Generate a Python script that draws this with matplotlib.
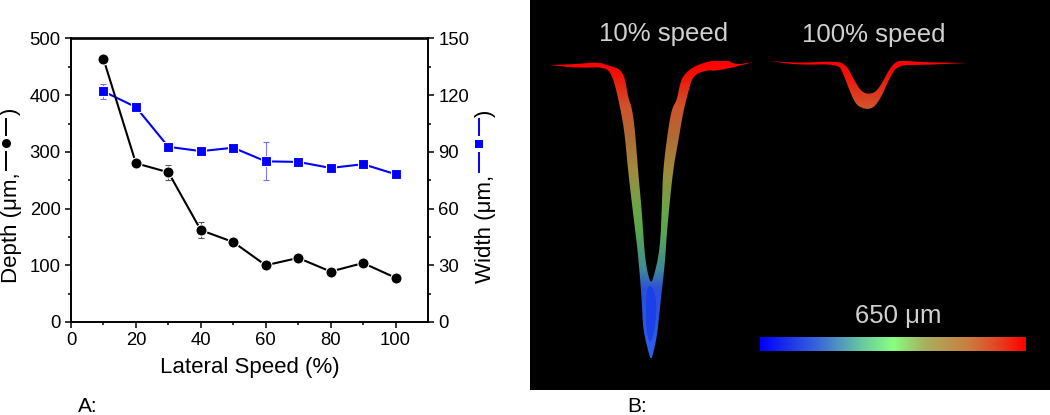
import numpy as np
import matplotlib
matplotlib.use("Agg")
import matplotlib.pyplot as plt
from matplotlib.colors import LinearSegmentedColormap
from matplotlib.lines import Line2D
from matplotlib.patches import Polygon

plt.rcParams['font.family'] = ['Liberation Sans', 'DejaVu Sans']

speed = [10, 20, 30, 40, 50, 60, 70, 80, 90, 100]
depth = [464, 280, 264, 162, 141, 100, 113, 89, 104, 78]
depth_err = [2, 2, 13, 13.5, 3, 2, 2, 2, 2, 2]
width = [122, 113.7, 92.7, 90.4, 92.2, 85, 84.7, 81.5, 83.5, 78.2]
width_err = [3.8, 1, 1, 1, 1, 10, 1, 2.8, 1, 1]
depth_ticks = [0, 100, 200, 300, 400, 500]
width_ticks = [0, 30, 60, 90, 120, 150]
speed_ticks = [0, 20, 40, 60, 80, 100]

# Surface profiles of the two grooves, as (x, y) in panel pixels
# (the ends of the flat surface are listed three times so smoothing keeps them sharp)
profile_10 = [(550,65),(550,65),(550,65),(578,68),(605,67),(612,75),(617,93),(622,117),(625,137),(628,170),
              (633,213),(638,253),(642,303),(643,330),(650,358),(651,359),(652,358),(657,337),(660,307),
              (665,263),(667,230),(673,170),(678,143),(683,113),(688,93),(693,75),(708,70),
              (715,71),(735,67),(753,62),(753,62),(753,62),(735,65),(725,58),(698,64),(685,73),(680,83),(677,100),
              (672,108),(668,130),(663,170),(662,203),(660,250),(653,280),(650,283),(645,260),
              (642,213),(638,170),(635,130),(632,108),(628,97),(625,78),(620,69),(610,66),
              (598,62),(578,64)]
profile_100 = [(770,61),(770,61),(770,61),(798,65),(838,64),(843,73),(852,97),(858,107),(871,110),(880,100),
               (890,77),(898,65),(922,65),(967,63),(967,63),(967,63),(912,62),(903,59),(892,64),(880,87),
               (873,94),(862,93),(853,78),(847,66),(838,61),(798,63)]
tip_core = [(646,288),(652,285),(657,300),(655,330),(650,345),(646,330)]

depth_cmap = LinearSegmentedColormap.from_list('depth', [
    (0.00, '#ff0000'), (0.05, '#f01408'), (0.15, '#d0522c'), (0.25, '#b06a34'),
    (0.365, '#a08a3c'), (0.50, '#6aa64a'), (0.57, '#5aa84c'), (0.70, '#3f8a98'),
    (0.77, '#2c50d8'), (0.90, '#2c58e0'), (1.00, '#2c60ec')])
scale_cmap = LinearSegmentedColormap.from_list('scale', [
    (0.00, '#0000ff'), (0.22, '#3c68d8'), (0.38, '#68c8a0'), (0.50, '#88ff80'),
    (0.62, '#a8b060'), (0.78, '#c88040'), (0.90, '#e84020'), (1.00, '#ff0000')])

fig = plt.figure(figsize=(10.5, 4.15), dpi=100)
W, H = 1050, 415

def rect(l, t, r, b):
    return [l / W, 1 - b / H, (r - l) / W, (b - t) / H]

def fx(px):
    return px / W

def fy(py):
    return 1 - py / H

def smooth(outline, rounds=2):
    # Corner cutting so the traced outlines do not look faceted
    pts = np.asarray(outline, dtype=float)
    for _ in range(rounds):
        nxt = np.roll(pts, -1, axis=0)
        pts = np.column_stack([0.75 * pts + 0.25 * nxt, 0.25 * pts + 0.75 * nxt]).reshape(-1, 2)
    return pts

ax = fig.add_axes(rect(71, 38.5, 428, 322))
ax2 = ax.twinx()

ax.errorbar(speed, depth, yerr=depth_err, color='black', lw=1.5, marker='o', ms=8,
            mfc='black', mec='white', mew=0.8, ecolor='#555555', elinewidth=0.7, capsize=2.5,
            capthick=0.7, zorder=3)
ax2.errorbar(speed, width, yerr=width_err, color='#0000ff', lw=1.5, marker='s', ms=7.2,
             mfc='#0000ff', mec='white', mew=0.8, ecolor='#7070ff', elinewidth=0.7, capsize=2.5,
             capthick=0.7, zorder=3)

ax.set_xlim(0, 110)
ax.set_ylim(0, 500)
ax2.set_ylim(0, 150)
ax.set_xticks(speed_ticks)
ax.set_xticks(np.arange(10, 110, 20), minor=True)
ax.set_yticks(depth_ticks)
ax.set_yticks(np.arange(50, 500, 100), minor=True)
ax2.set_yticks(width_ticks)
ax2.set_yticks(np.arange(15, 150, 30), minor=True)
for a in (ax, ax2):
    a.tick_params(which='major', length=4.5, width=1.1, labelsize=13.3, pad=3)
    a.tick_params(which='minor', length=2.3, width=1.1)
    for s in a.spines.values():
        s.set_linewidth(1.2)
ax.set_zorder(ax2.get_zorder() + 1)
ax.patch.set_visible(False)

fig.text(fx(250), fy(367), 'Lateral Speed (%)', fontsize=16, ha='center', va='center')

# Rotated axis titles with their line-and-marker keys drawn beside them
fig.text(fx(12), fy(283), 'Depth (μm,', rotation=90, fontsize=16, ha='center', va='bottom')
fig.text(fx(10), fy(115), ')', rotation=90, fontsize=16, ha='center', va='bottom')
fig.text(fx(485), fy(283), 'Width (μm,', rotation=90, fontsize=16, ha='center', va='bottom')
fig.text(fx(485), fy(117), ')', rotation=90, fontsize=16, ha='center', va='bottom')
for xk, ym, col, mk, ms, segs in [(5.7, 143, 'black', 'o', 6.5, [(119, 135), (152, 170)]),
                                  (479, 144, '#0000ff', 's', 5.8, [(119, 135), (153, 172)])]:
    for a0, a1 in segs:
        fig.add_artist(Line2D([fx(xk), fx(xk)], [fy(a0), fy(a1)], color=col, lw=1.4))
    fig.add_artist(Line2D([fx(xk)], [fy(ym)], color=col, marker=mk, ms=ms, mew=0))

fig.text(fx(78), fy(406.5), 'A:', fontsize=15, ha='left', va='center')
fig.text(fx(627), fy(406.5), 'B:', fontsize=15, ha='left', va='center')

# Black image panel, in pixel units
panel = fig.add_axes(rect(530, 0, 1050, 390))
panel.set_facecolor('black')
panel.set_xticks([])
panel.set_yticks([])
for s in panel.spines.values():
    s.set_visible(False)

gradient = np.linspace(0, 1, 256).reshape(-1, 1)
for outline in (profile_10, profile_100):
    poly = Polygon(smooth(outline), closed=True, transform=panel.transData, fc='none', ec='none')
    panel.add_patch(poly)
    im = panel.imshow(gradient, extent=(530, 1050, 358, 62), cmap=depth_cmap, aspect='auto',
                      interpolation='bilinear', zorder=2)
    im.set_clip_path(poly)
panel.add_patch(Polygon(smooth(tip_core), closed=True, fc='#1438f0', ec='none', alpha=0.7, zorder=3))

panel.imshow(np.linspace(0, 1, 256).reshape(1, -1), extent=(760, 1025, 351, 337), cmap=scale_cmap,
             aspect='auto', interpolation='bilinear', zorder=2)
panel.set_xlim(530, 1050)
panel.set_ylim(390, 0)

panel.text(664, 34, '10% speed', color='#d0d0d0', fontsize=18.5, ha='center', va='center')
panel.text(874, 35, '100% speed', color='#d0d0d0', fontsize=18.5, ha='center', va='center')
panel.text(898, 316, '650 μm', color='#d0d0d0', fontsize=18.5, ha='center', va='center')

fig.savefig('out.png', dpi=100, facecolor='white')
